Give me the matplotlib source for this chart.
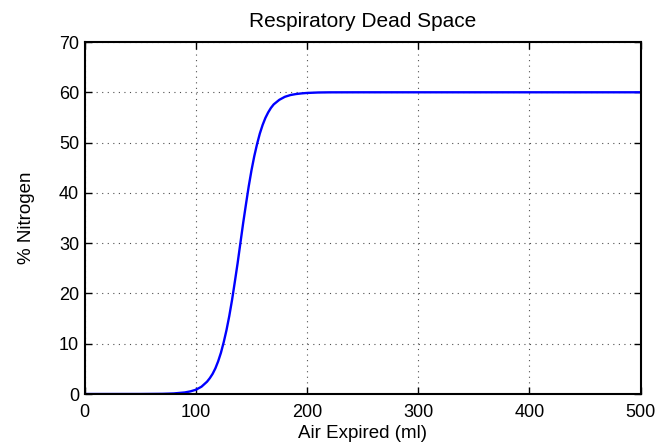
import matplotlib
matplotlib.use("Agg")
import matplotlib.pyplot as plt

# data
air_ml = [0, 50, 70, 80, 90, 95, 100, 105, 110, 112.5, 115, 117.5, 120, 122.5, 125, 127.5,
          130, 132.5, 135, 137.5, 140, 142.5, 145, 147.5, 150, 152.5, 155, 157.5, 160,
          162.5, 165, 167.5, 170, 175, 180, 185, 190, 195, 200, 210, 220, 250, 500]
nitrogen = [0.0, 0.005, 0.04, 0.11, 0.31, 0.52, 0.85, 1.45, 2.45, 3.15, 4.0, 5.1, 6.5, 8.2,
            10.3, 12.7, 15.5, 18.7, 22.3, 26.0, 30.0, 34.0, 37.7, 41.3, 44.5, 47.3, 49.7,
            51.8, 53.5, 54.9, 56.0, 56.9, 57.6, 58.5, 59.1, 59.45, 59.65, 59.78, 59.87,
            59.96, 59.99, 60.0, 60.0]

x_ticks = [0, 100, 200, 300, 400, 500]
y_ticks = [0, 10, 20, 30, 40, 50, 60, 70]

plt.rcParams['font.family'] = ['Liberation Sans', 'DejaVu Sans']

fig = plt.figure(figsize=(6.57, 4.44), dpi=100)
ax = fig.add_axes([0.129, 0.1126, 0.846, 0.7928])

ax.plot(air_ml, nitrogen, color='#0000ff', linewidth=1.7)

ax.set_xlim(0, 500)
ax.set_ylim(0, 70)
ax.set_xticks(x_ticks)
ax.set_yticks(y_ticks)
ax.tick_params(direction='in', length=5, width=1, top=True, right=True,
               labelsize=13, colors='black')
ax.tick_params(axis='x', pad=7)
ax.tick_params(axis='y', pad=4)
for s in ax.spines.values():
    s.set_linewidth(1.5)
ax.grid(True, linestyle=(0, (1, 4)), color='#505050', linewidth=0.8)

ax.set_title("Respiratory Dead Space", fontsize=15, pad=11)
ax.set_xlabel("Air Expired (ml)", fontsize=13.5, labelpad=3)
ax.set_ylabel("% Nitrogen", fontsize=13.5, labelpad=17)

fig.savefig("out.png", dpi=100)
